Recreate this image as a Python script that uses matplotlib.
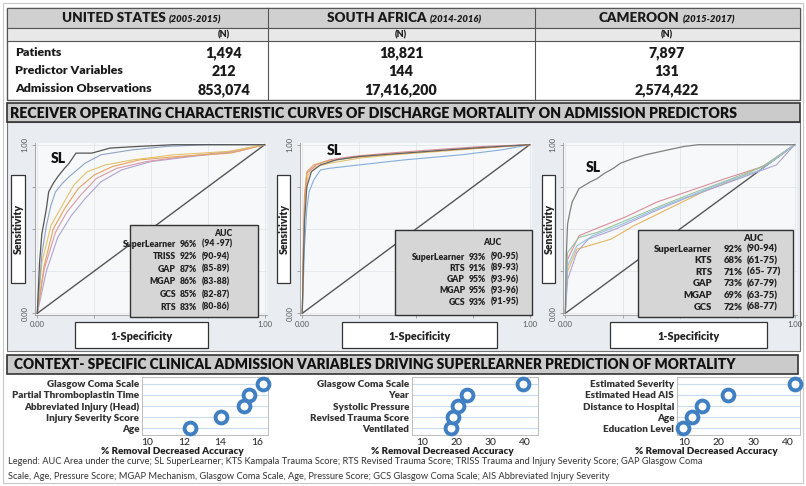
import matplotlib
matplotlib.use('Agg')
import matplotlib.pyplot as plt
from matplotlib.patches import Rectangle

W, H = 806, 486
plt.rcParams['font.family'] = ['Lato', 'DejaVu Sans']

# ---- table data ----
countries = ['UNITED STATES', 'SOUTH AFRICA', 'CAMEROON']
periods = ['(2005-2015)', '(2014-2016)', '(2015-2017)']
row_labels = ['Patients', 'Predictor Variables', 'Admission Observations']
patients = ['1,494', '18,821', '7,897']
predictors = ['212', '144', '131']
observations = ['853,074', '17,416,200', '2,574,422']

# ---- AUC tables ----
us_models = ['SuperLearner', 'TRISS', 'GAP', 'MGAP', 'GCS', 'RTS']
us_pct = ['96%', '92%', '87%', '86%', '85%', '83%']
us_ci = ['(94 -97)', '(90-94)', '(85-89)', '(83-88)', '(82-87)', '(80-86)']
sa_models = ['SuperLearner', 'RTS', 'GAP', 'MGAP', 'GCS']
sa_pct = ['93%', '91%', '95%', '95%', '93%']
sa_ci = ['(90-95)', '(89-93)', '(93-96)', '(93-96)', '(91-95)']
cm_models = ['SuperLearner', 'KTS', 'RTS', 'GAP', 'MGAP', 'GCS']
cm_pct = ['92%', '68%', '71%', '73%', '69%', '72%']
cm_ci = ['(90-94)', '(61-75)', '(65- 77)', '(67-79)', '(63-75)', '(68-77)']

# ---- ROC curves ----
us_roc = {
    'RTS':  ([0, 0.04, 0.09, 0.15, 0.21, 0.28, 0.37, 0.50, 0.68, 0.88, 1], [0, 0.25, 0.45, 0.58, 0.68, 0.78, 0.85, 0.90, 0.93, 0.96, 1]),
    'GCS':  ([0, 0.03, 0.08, 0.13, 0.19, 0.26, 0.35, 0.48, 0.65, 0.85, 1], [0, 0.26, 0.48, 0.60, 0.70, 0.80, 0.86, 0.90, 0.93, 0.96, 1]),
    'MGAP': ([0, 0.03, 0.07, 0.12, 0.18, 0.25, 0.33, 0.45, 0.62, 0.85, 1], [0, 0.28, 0.50, 0.62, 0.74, 0.82, 0.87, 0.91, 0.93, 0.95, 1]),
    'GAP':  ([0, 0.02, 0.06, 0.11, 0.16, 0.22, 0.30, 0.42, 0.60, 0.84, 1], [0, 0.30, 0.52, 0.64, 0.76, 0.84, 0.88, 0.91, 0.94, 0.96, 1]),
    'TRISS': ([0, 0.02, 0.04, 0.06, 0.08, 0.11, 0.14, 0.21, 0.28, 0.42, 0.57, 0.75, 1], [0, 0.35, 0.52, 0.64, 0.72, 0.77, 0.81, 0.89, 0.94, 0.97, 0.99, 1, 1]),
    'SL':   ([0, 0.01, 0.02, 0.04, 0.05, 0.07, 0.09, 0.12, 0.14, 0.17, 0.24, 0.32, 0.45, 0.6, 1], [0, 0.30, 0.47, 0.62, 0.72, 0.77, 0.81, 0.86, 0.89, 0.95, 0.95, 0.98, 0.99, 1, 1]),
}
sa_roc = {
    'RTS':  ([0, 0.01, 0.02, 0.03, 0.05, 0.08, 0.12, 0.25, 0.45, 0.70, 0.88, 1], [0, 0.40, 0.62, 0.72, 0.79, 0.85, 0.86, 0.88, 0.91, 0.94, 0.97, 1]),
    'GCS':  ([0, 0.005, 0.012, 0.025, 0.06, 0.12, 0.25, 0.40, 0.60, 0.80, 1], [0, 0.36, 0.66, 0.82, 0.87, 0.89, 0.92, 0.94, 0.96, 0.98, 1]),
    'MGAP': ([0, 0.005, 0.01, 0.02, 0.06, 0.12, 0.22, 0.38, 0.58, 0.80, 1], [0, 0.38, 0.68, 0.83, 0.88, 0.91, 0.93, 0.95, 0.97, 0.99, 1]),
    'GAP':  ([0, 0.005, 0.01, 0.02, 0.05, 0.10, 0.20, 0.35, 0.55, 0.78, 1], [0, 0.40, 0.70, 0.84, 0.88, 0.90, 0.92, 0.94, 0.96, 0.98, 1]),
    'SL':   ([0, 0.005, 0.01, 0.02, 0.04, 0.08, 0.15, 0.25, 0.35, 0.55, 0.75, 1], [0, 0.30, 0.55, 0.75, 0.84, 0.88, 0.91, 0.93, 0.94, 0.96, 0.98, 1]),
}
cm_roc = {
    'GCS':  ([0, 0.01, 0.05, 0.10, 0.20, 0.30, 0.45, 0.60, 0.75, 0.90, 1], [0, 0.25, 0.38, 0.40, 0.44, 0.52, 0.62, 0.72, 0.80, 0.90, 1]),
    'MGAP': ([0, 0.01, 0.05, 0.10, 0.22, 0.38, 0.52, 0.68, 0.84, 0.92, 1], [0, 0.20, 0.36, 0.44, 0.50, 0.60, 0.68, 0.76, 0.84, 0.88, 1]),
    'GAP':  ([0, 0.01, 0.06, 0.13, 0.26, 0.40, 0.55, 0.70, 0.86, 1], [0, 0.32, 0.46, 0.50, 0.57, 0.66, 0.73, 0.80, 0.87, 1]),
    'RTS':  ([0, 0.01, 0.06, 0.14, 0.28, 0.42, 0.57, 0.71, 0.86, 1], [0, 0.36, 0.45, 0.48, 0.56, 0.64, 0.72, 0.79, 0.87, 1]),
    'KTS':  ([0, 0.01, 0.05, 0.12, 0.25, 0.40, 0.55, 0.70, 0.85, 1], [0, 0.28, 0.40, 0.46, 0.53, 0.62, 0.70, 0.78, 0.85, 1]),
    'SL':   ([0, 0.004, 0.01, 0.02, 0.03, 0.06, 0.11, 0.14, 0.17, 0.21, 0.24, 0.30, 0.35, 0.45, 0.52, 0.58, 1],
             [0, 0.33, 0.53, 0.60, 0.66, 0.74, 0.78, 0.80, 0.83, 0.86, 0.89, 0.92, 0.94, 0.97, 0.99, 1, 1]),
}
curve_colors = {
    'us': {'SL': '#555555', 'TRISS': '#8ea4c4', 'GAP': '#e3c36a', 'MGAP': '#e8a25a', 'GCS': '#d99aa6', 'RTS': '#b0a3d4'},
    'sa': {'SL': '#666666', 'RTS': '#86aedb', 'GAP': '#e8a25a', 'MGAP': '#d98c9a', 'GCS': '#e3c36a'},
    'cm': {'SL': '#808080', 'KTS': '#93c2e0', 'RTS': '#9cc49a', 'GAP': '#d98c9a', 'MGAP': '#b0a3d4', 'GCS': '#e6b560'},
}

# ---- variable importance ----
us_vars = ['Glasgow Coma Scale', 'Partial Thromboplastin Time', 'Abbreviated Injury (Head)', 'Injury Severity Score', 'Age']
us_imp = [16.3, 15.55, 15.3, 14.05, 12.35]
sa_vars = ['Glasgow Coma Scale', 'Year', 'Systolic Pressure', 'Revised Trauma Score', 'Ventilated']
sa_imp = [39.5, 23.0, 20.3, 19.0, 18.4]
cm_vars = ['Estimated Severity', 'Estimated Head AIS', 'Distance to Hospital', 'Age', 'Education Level']
cm_imp = [42.0, 22.6, 15.3, 12.2, 9.7]

legend_lines = [
    'Legend: AUC Area under the curve; SL SuperLearner; KTS Kampala Trauma Score; RTS Revised Trauma Score; TRISS Trauma and Injury Severity Score; GAP Glasgow Coma',
    'Scale, Age, Pressure Score; MGAP Mechanism, Glasgow Coma Scale, Age, Pressure Score; GCS Glasgow Coma Scale; AIS Abbreviated Injury Severity',
]

fig = plt.figure(figsize=(W / 100, H / 100), dpi=100)
fig.patch.set_facecolor('white')


def px_axes(x0, y0, x1, y1):
    return fig.add_axes([x0 / W, 1 - y1 / H, (x1 - x0) / W, (y1 - y0) / H])


def box(ax, x0, y0, x1, y1, fc='none', ec='#555555', lw=0.8, z=1):
    ax.add_patch(Rectangle((x0, y0), x1 - x0, y1 - y0, facecolor=fc, edgecolor=ec, lw=lw, zorder=z))


bg = px_axes(0, 0, W, H)
bg.set_xlim(0, W)
bg.set_ylim(H, 0)
bg.axis('off')

box(bg, 3, 3, 803, 483, ec='#c8c8c8', lw=0.8)

# table
box(bg, 7, 8, 800, 100, fc='white', ec='#555555', lw=1.0)
box(bg, 7, 8, 800, 28, fc='#d0d0d0', ec='#555555', lw=0.8)
box(bg, 7, 28, 800, 41, fc='#e8e8e8', ec='#555555', lw=0.8)
for xd in [268, 535]:
    bg.plot([xd, xd], [8, 100], color='#555555', lw=0.8)

col_centers = [142, 404, 667]
val_centers = [224, 401, 667]
renderer = fig.canvas.get_renderer()
for i in range(3):
    t1 = bg.text(0, 18.5, countries[i], fontsize=9.7, fontweight='heavy', va='center', ha='left', color='#1a1a1a')
    t2 = bg.text(0, 19.5, periods[i], fontsize=6.8, fontweight='heavy', style='italic', va='center', ha='left', color='#1a1a1a')
    w1 = t1.get_window_extent(renderer).width
    w2 = t2.get_window_extent(renderer).width
    start = col_centers[i] - (w1 + w2 + 3) / 2
    t1.set_x(start)
    t2.set_x(start + w1 + 3)
    bg.text(val_centers[i], 34.5, '(N)', fontsize=6.5, fontweight='heavy', ha='center', va='center', color='#222222')
    for r, vals in enumerate([patients, predictors, observations]):
        bg.text(val_centers[i], 53 + r * 18.5, vals[i], fontsize=10.3, fontweight='heavy', ha='center', va='center', color='#1a1a1a')
for r, lab in enumerate(row_labels):
    bg.text(15, 52 + r * 18.5, lab, fontsize=8.9, fontweight='heavy', ha='left', va='center', color='#1a1a1a')

# ROC section
box(bg, 7, 122, 800, 351, fc='#e9edf1', ec='#777777', lw=0.8)
box(bg, 7, 103, 800, 122, fc='#cbcbcb', ec='#333333', lw=1.2)
bg.text(10, 113, 'RECEIVER OPERATING CHARACTERISTIC CURVES OF DISCHARGE MORTALITY ON ADMISSION PREDICTORS',
        fontsize=10.15, fontweight='heavy', va='center', ha='left', color='#111111')

# bottom section title
box(bg, 7, 355, 798, 374, fc='#cbcbcb', ec='#333333', lw=1.2)
bg.text(14, 364.5, 'CONTEXT- SPECIFIC CLINICAL ADMISSION VARIABLES DRIVING SUPERLEARNER PREDICTION OF MORTALITY',
        fontsize=9.95, fontweight='heavy', va='center', ha='left', color='#111111')

for k, line in enumerate(legend_lines):
    bg.text(8, 461 + k * 15, line, fontsize=6.7, ha='left', va='center', color='#333333')

# ROC panels
roc_sets = [('us', us_roc, (35, 143, 267, 315)),
            ('sa', sa_roc, (300, 143, 532, 315)),
            ('cm', cm_roc, (563, 143, 797, 315))]
for key, curves, (x0, y0, x1, y1) in roc_sets:
    ax = px_axes(x0, y0, x1, y1)
    ax.set_facecolor('#f6f8fa')
    ax.plot([0, 1], [0, 1], color='#555555', lw=1.0, zorder=2)
    for name, (fpr, tpr) in curves.items():
        ax.plot(fpr, tpr, color=curve_colors[key][name], lw=0.9 if name == 'SL' else 0.8, zorder=3 if name == 'SL' else 2.5)
    ax.set_xlim(-0.01, 1.01)
    ax.set_ylim(-0.01, 1.01)
    ax.set_xticks([0, 0.25, 0.5, 0.75, 1])
    ax.set_yticks([0, 0.25, 0.5, 0.75, 1])
    ax.set_xticklabels(['0.00', '', '', '', '1.00'], fontsize=5.5, color='#555555')
    ax.set_yticklabels(['0.00', '', '', '', '1.00'], fontsize=5.5, color='#555555', rotation=90, va='center')
    ax.tick_params(length=2.5, width=0.5, color='#888888', pad=2)
    ax.grid(True, color='#e2e7eb', lw=0.6)
    for s in ['top', 'right']:
        ax.spines[s].set_visible(False)
    for s in ['left', 'bottom']:
        ax.spines[s].set_color('#999999')
        ax.spines[s].set_linewidth(0.6)

# overlay with boxes and labels
ov = px_axes(0, 0, W, H)
ov.set_xlim(0, W)
ov.set_ylim(H, 0)
ov.axis('off')
ov.patch.set_alpha(0)

sens_boxes = [(11, 25), (277, 290), (542, 555)]
spec_boxes = [(75, 208), (342, 497), (610, 767)]
for (sx0, sx1), (px0, px1) in zip(sens_boxes, spec_boxes):
    box(ov, sx0, 175, sx1, 283, fc='white', ec='#333333', lw=0.9)
    ov.text((sx0 + sx1) / 2 + 0.5, 229, 'Sensitivity', rotation=90, fontsize=7.6, fontweight='heavy', ha='center', va='center', color='#222222')
    box(ov, px0, 322, px1, 348, fc='white', ec='#333333', lw=0.9)
    ov.text((px0 + px1) / 2, 336, '1-Specificity', fontsize=7.8, fontweight='heavy', ha='center', va='center', color='#222222')

for sx, sy in [(51, 158), (327, 150), (586, 167)]:
    ov.text(sx, sy, 'SL', fontsize=10, fontweight='heavy', ha='left', va='center', color='#111111')

auc_specs = [
    (us_models, us_pct, us_ci, (130, 225, 258, 317), (223, 233), 244, 307, 176, 180, 202, 6.2),
    (sa_models, sa_pct, sa_ci, (395, 230, 532, 315), (492, 242), 257, 302, 465, 469, 491, 6.2),
    (cm_models, cm_pct, cm_ci, (638, 230, 793, 317), (753, 238), 249, 307, 712, 724, 747, 6.8),
]
for models, pcts, cis, (bx0, by0, bx1, by1), (ax_, ay_), ry0, ry1, nx, px_, cx, fs in auc_specs:
    box(ov, bx0, by0, bx1, by1, fc='#d6d6d6', ec='#333333', lw=1.0)
    ov.text(ax_, ay_, 'AUC', fontsize=fs, fontweight='heavy', ha='center', va='center', color='#222222')
    n = len(models)
    for j in range(n):
        yy = ry0 + (ry1 - ry0) * j / (n - 1)
        ov.text(nx, yy, models[j], fontsize=fs, fontweight='heavy', ha='right', va='center', color='#222222')
        ov.text(px_, yy, pcts[j], fontsize=fs, fontweight='heavy', ha='left', va='center', color='#222222')
        ov.text(cx, yy, cis[j], fontsize=fs, fontweight='heavy', ha='left', va='center', color='#222222')

# variable importance dot plots
dot_sets = [(us_vars, us_imp, (142, 377, 268, 435), (9.7, 16.6), [10, 12, 14, 16]),
            (sa_vars, sa_imp, (412, 377, 538, 435), (7.0, 43.8), [10, 20, 30, 40]),
            (cm_vars, cm_imp, (677, 377, 800, 435), (8.0, 43.5), [10, 20, 30, 40])]
for names, vals, (x0, y0, x1, y1), xl, ticks in dot_sets:
    ax = px_axes(x0, y0, x1, y1)
    ax.set_facecolor('white')
    ax.plot(vals[::-1], names[::-1], ls='none', marker='o', ms=8.5, mfc='white', mec='#3f7fc2', mew=2.8, zorder=3, clip_on=False)
    ax.set_xlim(*xl)
    ax.set_ylim(-0.6, 4.6)
    ax.set_xticks(ticks)
    ax.tick_params(axis='both', length=0, pad=2)
    ax.tick_params(axis='x', labelsize=7.5, labelcolor='#222222')
    for lab in ax.get_yticklabels():
        lab.set_fontsize(7.1)
        lab.set_fontweight('heavy')
        lab.set_color('#333333')
    ax.grid(True, axis='y', color='#c9dbee', lw=0.8)
    for s in ax.spines.values():
        s.set_color('#bdbdbd')
        s.set_linewidth(0.7)
    ax.set_xlabel('% Removal Decreased Accuracy', fontsize=7.1, fontweight='heavy', color='#222222', labelpad=0)
    ax.xaxis.set_label_coords(0.24, -0.2)

fig.savefig('out.png', dpi=100)
